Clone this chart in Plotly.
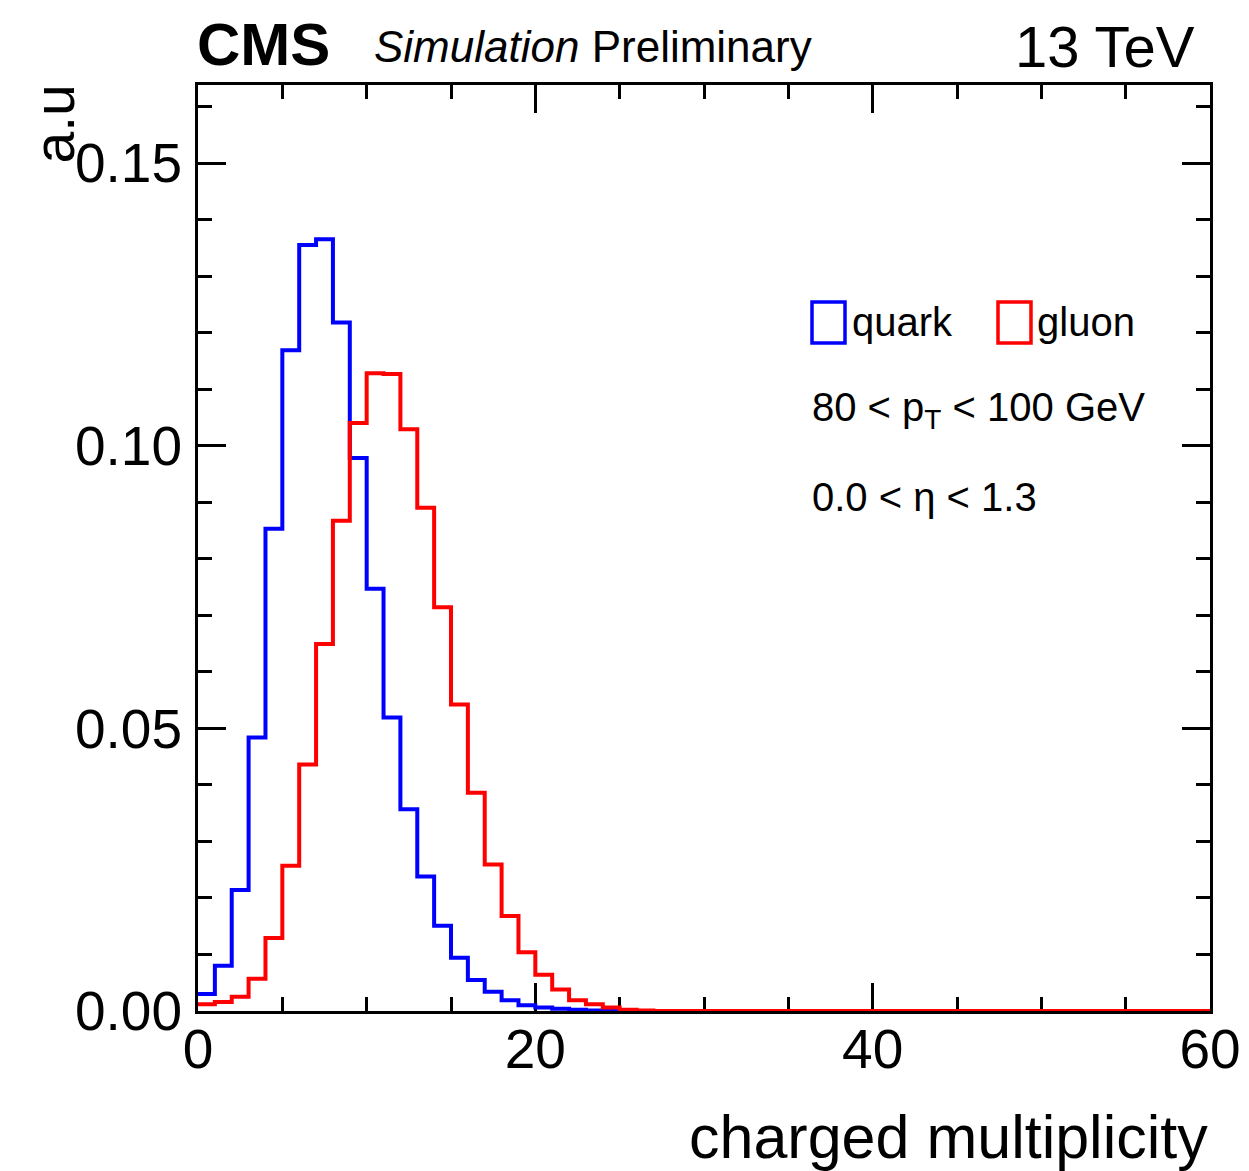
import plotly.graph_objects as go

# ---- data (bin width 1, x from 0 to 60) ----
bin_edges = list(range(0, 61))
quark = [0.0030, 0.0080, 0.0214, 0.0484, 0.0853, 0.1169, 0.1355, 0.1365, 0.1218, 0.0978,
         0.0747, 0.0519, 0.0357, 0.0238, 0.0151, 0.0094, 0.0055, 0.0034, 0.0019, 0.0010,
         0.0006, 0.0004, 0.0002, 0.0001, 0.0001, 0.0, 0.0, 0.0, 0.0, 0.0,
         0.0, 0.0, 0.0, 0.0, 0.0, 0.0, 0.0, 0.0, 0.0, 0.0,
         0.0, 0.0, 0.0, 0.0, 0.0, 0.0, 0.0, 0.0, 0.0, 0.0,
         0.0, 0.0, 0.0, 0.0, 0.0, 0.0, 0.0, 0.0, 0.0, 0.0]
gluon = [0.0012, 0.0016, 0.0025, 0.0057, 0.0129, 0.0257, 0.0436, 0.0649, 0.0867, 0.1040,
         0.1128, 0.1127, 0.1029, 0.0890, 0.0714, 0.0542, 0.0386, 0.0259, 0.0168, 0.0104,
         0.0064, 0.0038, 0.0019, 0.0012, 0.0006, 0.0002, 0.0001, 0.0, 0.0, 0.0,
         0.0, 0.0, 0.0, 0.0, 0.0, 0.0, 0.0, 0.0, 0.0, 0.0,
         0.0, 0.0, 0.0, 0.0, 0.0, 0.0, 0.0, 0.0, 0.0, 0.0,
         0.0, 0.0, 0.0, 0.0, 0.0, 0.0, 0.0, 0.0, 0.0, 0.0]
series_names = ["quark", "gluon"]
series_colors = ["#0000ff", "#ff0000"]

W, H = 1249, 1171
L, R, T, B = 198, 39, 85, 160
PW, PH = W - L - R, H - T - B

def px_x(p):
    return (p - L) / PW

def px_y(p):
    return (H - B - p) / PH

FONT = "Liberation Sans, Arial, Helvetica, sans-serif"

fig = go.Figure()
for name, vals, col in zip(series_names, [quark, gluon], series_colors):
    fig.add_trace(go.Scatter(
        x=bin_edges, y=vals + [vals[-1]], mode="lines", name=name,
        line=dict(color=col, width=4, shape="hv"), cliponaxis=False,
        showlegend=False))

axis_common = dict(
    showgrid=False, zeroline=False, showline=True, linecolor="black", linewidth=3,
    mirror="allticks", ticks="inside", ticklen=28, tickwidth=3, tickcolor="black",
    tickfont=dict(family=FONT, size=55, color="black"), layer="below traces",
)
fig.update_xaxes(range=[0, 60], dtick=20, tick0=0,
                 minor=dict(dtick=5, ticklen=14, tickwidth=3, ticks="inside", tickcolor="black"),
                 ticklabelstandoff=-12, **axis_common)
fig.update_yaxes(range=[0, 0.1638], dtick=0.05, tick0=0, tickformat=".2f",
                 minor=dict(dtick=0.01, ticklen=14, tickwidth=3, ticks="inside", tickcolor="black"),
                 ticklabelstandoff=2, **axis_common)

ann = []
ann.append(dict(text="charged multiplicity", x=1.0, y=px_y(1137), xref="paper", yref="paper",
                xanchor="right", yanchor="middle", showarrow=False,
                font=dict(family=FONT, size=61, color="black")))
ann.append(dict(text="a.u", x=px_x(53), y=px_y(83), xref="paper", yref="paper",
                xanchor="center", yanchor="top", textangle=-90, showarrow=False,
                font=dict(family=FONT, size=57, color="black")))
ann.append(dict(text="<b>CMS</b>", x=px_x(195), y=px_y(45), xref="paper", yref="paper",
                xanchor="left", yanchor="middle", showarrow=False,
                font=dict(family=FONT, size=60, color="black")))
ann.append(dict(text="<i>Simulation</i> Preliminary", x=px_x(372), y=px_y(46), xref="paper", yref="paper",
                xanchor="left", yanchor="middle", showarrow=False,
                font=dict(family=FONT, size=44, color="black")))
ann.append(dict(text="13 TeV", x=px_x(1197), y=px_y(46), xref="paper", yref="paper",
                xanchor="right", yanchor="middle", showarrow=False,
                font=dict(family=FONT, size=58, color="black")))
# legend texts
ann.append(dict(text="quark", x=px_x(850), y=px_y(322), xref="paper", yref="paper",
                xanchor="left", yanchor="middle", showarrow=False,
                font=dict(family=FONT, size=40, color="black")))
ann.append(dict(text="gluon", x=px_x(1035), y=px_y(322), xref="paper", yref="paper",
                xanchor="left", yanchor="middle", showarrow=False,
                font=dict(family=FONT, size=40, color="black")))
ann.append(dict(text="80 < p<sub>T</sub> < 100 GeV", x=px_x(810), y=px_y(410), xref="paper", yref="paper",
                xanchor="left", yanchor="middle", showarrow=False,
                font=dict(family=FONT, size=40, color="black")))
ann.append(dict(text="0.0 < η < 1.3", x=px_x(810), y=px_y(497), xref="paper", yref="paper",
                xanchor="left", yanchor="middle", showarrow=False,
                font=dict(family=FONT, size=40, color="black")))

shapes = []
for x0, col in [(812, series_colors[0]), (998, series_colors[1])]:
    shapes.append(dict(type="rect", xref="paper", yref="paper",
                       x0=px_x(x0), x1=px_x(x0 + 33), y0=px_y(343), y1=px_y(302),
                       line=dict(color=col, width=3.5), fillcolor="rgba(0,0,0,0)"))

fig.update_layout(
    width=W, height=H, margin=dict(l=L, r=R, t=T, b=B, autoexpand=False),
    paper_bgcolor="white", plot_bgcolor="white", showlegend=False,
    annotations=ann, shapes=shapes,
)
fig.write_html("out.html")
